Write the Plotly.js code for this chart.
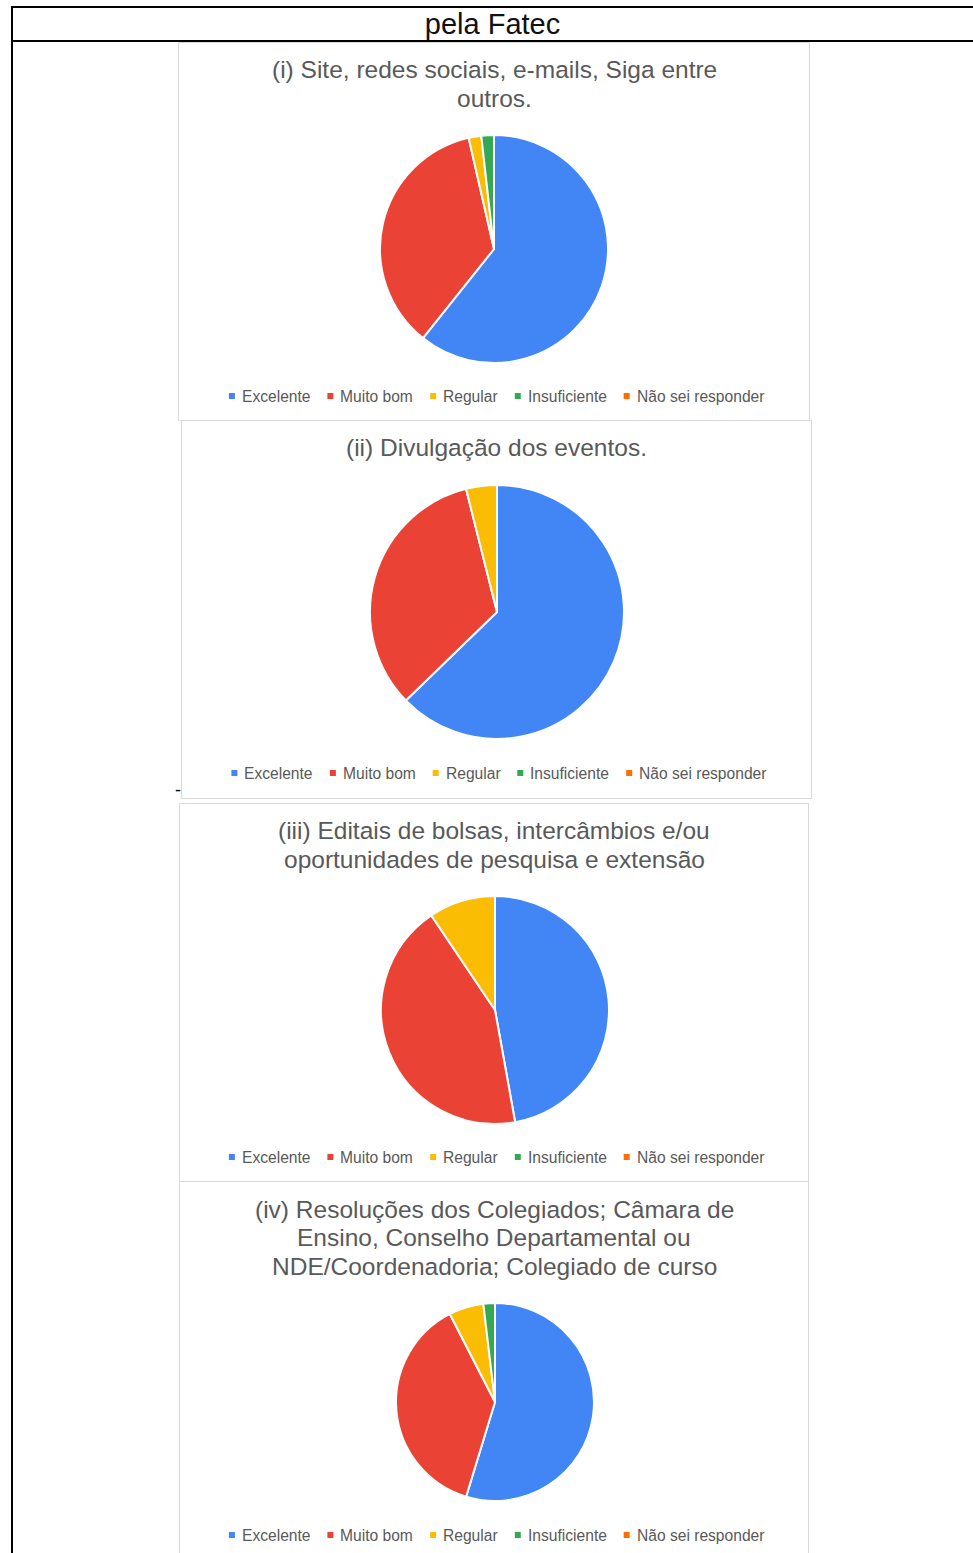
<!DOCTYPE html>
<html>
<head>
<meta charset="utf-8">
<script src="https://cdn.plot.ly/plotly-3.0.1.min.js"></script>
<style>
  html, body { margin: 0; padding: 0; background: #ffffff; }
  #page { position: relative; width: 973px; height: 1553px; overflow: hidden; background: #fff; font-family: "Liberation Sans", Arial, sans-serif; }
  .hline { position: absolute; height: 2px; background: #000; }
  .vline { position: absolute; width: 2px; background: #000; }
  #header { position: absolute; left: 12px; width: 961px; top: 8px; height: 33px; line-height: 33px; text-align: center; font-size: 29px; color: #111; }
  #dash { position: absolute; left: 175px; top: 780px; font-size: 18px; color: #000; }
  .box { position: absolute; box-sizing: border-box; border: 1px solid #d9d9d9; background: #fff; }
</style>
</head>
<body>
<div id="page">
  <div class="hline" style="left:11px; top:6px; width:962px;"></div>
  <div class="hline" style="left:11px; top:40px; width:962px;"></div>
  <div class="vline" style="left:11px; top:6px; height:1547px;"></div>
  <div id="header">pela Fatec</div>
  <div id="dash">-</div>
  <div class="box" id="c1" style="left:178px; top:42px; width:632px; height:379px;"></div>
  <div class="box" id="c2" style="left:181px; top:420px; width:631px; height:379px;"></div>
  <div class="box" id="c3" style="left:179px; top:803px; width:630px; height:379px;"></div>
  <div class="box" id="c4" style="left:179px; top:1181px; width:630px; height:385px;"></div>
</div>
<script>
// ---- data ----
var labels = ['Excelente', 'Muito bom', 'Regular', 'Insuficiente', 'Não sei responder'];
var colors = ['#4285F4', '#EA4335', '#FBBC04', '#34A853', '#FF6D01'];
var title1 = ['(i) Site, redes sociais, e-mails, Siga entre', 'outros.'];
var title2 = ['(ii) Divulgação dos eventos.'];
var title3 = ['(iii) Editais de bolsas, intercâmbios e/ou', 'oportunidades de pesquisa e extensão'];
var title4 = ['(iv) Resoluções dos Colegiados; Câmara de', 'Ensino, Conselho Departamental ou', 'NDE/Coordenadoria; Colegiado de curso'];
var values1 = [34, 20, 1, 1, 0];
var values2 = [32, 17, 2, 0, 0];
var values3 = [25, 23, 5, 0, 0];
var values4 = [29, 20, 3, 1, 0];

// ---- layout helpers ----
var FONT = '"Liberation Sans", Arial, sans-serif';
var TEXT_COLOR = '#595959';
var LEG_SIZE = 15.6;
var TITLE_SIZE = 24.5;

var ctx = document.createElement('canvas').getContext('2d');
ctx.font = LEG_SIZE + 'px "Liberation Sans", Arial, sans-serif';

function drawChart(id, values, titleLines, cfg) {
  var el = document.getElementById(id);
  var W = el.clientWidth, H = el.clientHeight;
  var cx = cfg.cx, cy = cfg.cy, r = cfg.r;
  var annotations = [];
  var shapes = [];
  titleLines.forEach(function (line, i) {
    annotations.push({
      text: line, xref: 'paper', yref: 'paper', x: 0.5, xanchor: 'center',
      y: 1 - (cfg.titleTop + i * cfg.titleGap) / H, yanchor: 'middle', showarrow: false,
      font: { family: FONT, size: TITLE_SIZE, color: TEXT_COLOR }
    });
  });
  // legend built from the labels
  var widths = labels.map(function (l) { return ctx.measureText(l).width; });
  var markerToText = 8, gapAfter = 22;
  var total = 0;
  widths.forEach(function (w, i) { total += markerToText + w + (i < widths.length - 1 ? gapAfter : 0); });
  var x = W / 2 + cfg.legShift - total / 2;
  var ly = cfg.legY;
  labels.forEach(function (l, i) {
    shapes.push({
      type: 'rect', xref: 'paper', yref: 'paper',
      x0: (x - 3) / W, x1: (x + 3) / W, y0: 1 - (ly + 3) / H, y1: 1 - (ly - 3) / H,
      fillcolor: colors[i], line: { width: 0 }
    });
    annotations.push({
      text: l, xref: 'paper', yref: 'paper', x: (x + markerToText) / W, xanchor: 'left',
      y: 1 - ly / H, yanchor: 'middle', showarrow: false,
      font: { family: FONT, size: LEG_SIZE, color: TEXT_COLOR }
    });
    x += markerToText + widths[i] + gapAfter;
  });
  var trace = {
    type: 'pie', labels: labels, values: values, sort: false, direction: 'clockwise', rotation: 0,
    marker: { colors: colors, line: { color: '#ffffff', width: 2 } },
    textinfo: 'none', hoverinfo: 'label+value+percent',
    domain: { x: [(cx - r) / W, (cx + r) / W], y: [1 - (cy + r) / H, 1 - (cy - r) / H] }
  };
  Plotly.newPlot(el, [trace], {
    width: W, height: H, margin: { l: 0, r: 0, t: 0, b: 0 },
    paper_bgcolor: '#ffffff', showlegend: false,
    annotations: annotations, shapes: shapes
  }, { staticPlot: true, displayModeBar: false });
}

drawChart('c1', values1, title1, { cx: 315, cy: 206, r: 114, titleTop: 27, titleGap: 28.5, legY: 353, legShift: 3 });
drawChart('c2', values2, title2, { cx: 315, cy: 191, r: 127, titleTop: 27, titleGap: 28.5, legY: 352, legShift: 3 });
drawChart('c3', values3, title3, { cx: 315, cy: 206, r: 114, titleTop: 27, titleGap: 28.5, legY: 353, legShift: 3 });
drawChart('c4', values4, title4, { cx: 315, cy: 220, r: 99, titleTop: 27, titleGap: 28.5, legY: 353, legShift: 3 });
</script>
</body>
</html>
